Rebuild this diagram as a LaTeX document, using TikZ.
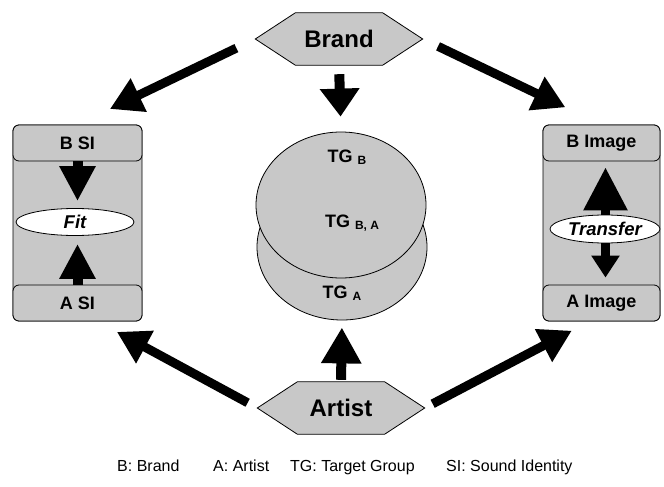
\documentclass[tikz,border=0pt]{standalone}
\usepackage{fontspec}
\setmainfont{Liberation Sans}
\usetikzlibrary{arrows.meta,calc,shapes.geometric,backgrounds}
\definecolor{boxgray}{RGB}{200,200,200}
\newcommand\tgsub[1]{\raisebox{-1.5pt}{\fontsize{12}{12}\selectfont #1}}
\tikzset{
  hexbox/.style={minimum width=167, minimum height=52, inner sep=0, font=\fontsize{24}{24}\selectfont\bfseries},
  hexfill/.style={fill=boxgray, draw=black, line width=0.8},
  panel/.style={draw=black, fill=boxgray, line width=0.8, rounded corners=6, inner sep=0},
  panelhead/.style={panel, minimum height=36, font=\fontsize{18}{18}\selectfont\bfseries},
  oval/.style={ellipse, draw=black, fill=white, line width=0.8, inner sep=0, font=\fontsize{18.5}{18.5}\selectfont\bfseries\itshape},
  disc/.style={ellipse, draw=black, fill=boxgray, line width=0.8, minimum width=170, minimum height=146, inner sep=0},
  tglabel/.style={font=\fontsize{18}{18}\selectfont\bfseries},
  bigarrow/.style={line width=9, -{Triangle[length=32, width=35]}},
  legend/.style={anchor=base west, inner sep=0, font=\fontsize{16}{16}\selectfont}
}
\begin{document}
\begin{tikzpicture}[x=1pt, y=-1pt]
\useasboundingbox (0,0) rectangle (664,487);

% hexagonal source nodes
\node[hexbox] (brand) at (339,39) {Brand};
\node[hexbox] (artist) at (341,408) {Artist};
\begin{scope}[on background layer]
  \foreach \h in {brand, artist} {
    \draw[hexfill] (\h.west) -- ($(\h.north west)+(40,0)$) -- ($(\h.north east)+(-40,0)$)
      -- (\h.east) -- ($(\h.south east)+(-40,0)$) -- ($(\h.south west)+(40,0)$) -- cycle;
  }
\end{scope}

% target group discs
\node[disc] (tglow) at (342,247) {};
\node[disc] (tgup) at (341,205) {};
\node[tglabel] (tgb) at (347,157) {TG \tgsub{B}};
\node[tglabel] (tgba) at (352,223) {TG \tgsub{B, A}};
\node[tglabel] (tga) at (342,293) {TG \tgsub{A}};

% sound identity panel
\node[panel, minimum width=129, minimum height=196] (sipanel) at (77.5,223) {};
\node[panelhead, minimum width=129, anchor=north] (bsi) at (sipanel.north) {B SI};
\node[panelhead, minimum width=129, anchor=south] (asi) at (sipanel.south) {A SI};
\node[oval, minimum width=118, minimum height=27] (fit) at (75,222) {Fit};
\draw[line width=10, -{Triangle[length=35, width=34]}, shorten >=7] (bsi.south) -- (bsi.south |- fit.north);
\draw[line width=10, -{Triangle[length=35, width=34]}, shorten >=8] (asi.north) -- (asi.north |- fit.south);

% image panel
\node[panel, minimum width=117, minimum height=196] (imgpanel) at (601.5,223) {};
\node[panelhead, minimum width=117, anchor=north] (bimg) at (imgpanel.north) {B Image};
\node[panelhead, minimum width=117, anchor=south] (aimg) at (imgpanel.south) {A Image};
\draw[line width=9, {Triangle[length=43, width=42]}-{Triangle[length=22, width=27]}, shorten <=6, shorten >=7]
  ($(bimg.south)+(4,0)$) -- ($(aimg.north)+(4,0)$);
\node[oval, minimum width=110, minimum height=28] (transfer) at (605,229) {Transfer};

% main connectors
\draw[bigarrow, shorten <=21, shorten >=36] (brand.west) -- (sipanel.north);
\draw[bigarrow, shorten <=17, shorten >=40] (brand.east) -- (imgpanel.north);
\draw[bigarrow, shorten <=11, shorten >=22] (artist.west) -- ($(sipanel.south)+(20,0)$);
\draw[bigarrow, shorten <=9, shorten >=20] (artist.east) -- ($(imgpanel.south)+(-12,0)$);
\draw[line width=10, -{Triangle[length=28, width=38]}, shorten <=9, shorten >=15] (brand.south) -- (tgup.north);
\draw[line width=10, -{Triangle[length=36, width=38]}, shorten <=2, shorten >=7] (artist.north) -- (tglow.south);

% legend
\node[legend] (lgb) at (117,471) {B: Brand};
\node[legend] (lga) at (213,471) {A: Artist};
\node[legend] (lgtg) at (290,471) {TG: Target Group};
\node[legend] (lgsi) at (446,471) {SI: Sound Identity};
\end{tikzpicture}
\end{document}
